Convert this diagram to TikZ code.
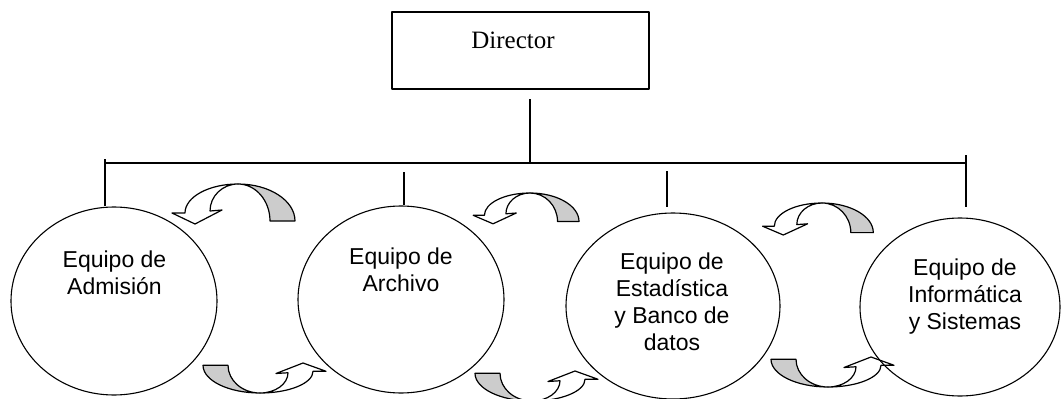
\documentclass[tikz,border=0pt]{standalone}
\usepackage{fontspec}
\setmainfont{Liberation Serif}
\newfontfamily\teamfont{Liberation Sans}
\usetikzlibrary{shapes.geometric}
\definecolor{ribbon gray}{rgb}{0.8, 0.8, 0.8}

% one curved ribbon arrow, drawn round its top point
\newcommand{\ribbonarrow}{%
	\filldraw[fill=ribbon gray]
		(0,0) arc[start angle=-90, end angle=0, x radius=57, y radius=37]
		-- (32,37) arc[start angle=0, end angle=-90, x radius=32, y radius=37] -- cycle;
	\filldraw[fill=white]
		(0,0) arc[start angle=-90, end angle=-180, x radius=53, y radius=29]
		-- (-66,29) -- (-43,40) -- (-16,26) -- (-28,27)
		arc[start angle=180, end angle=270, x radius=28, y radius=27] -- cycle;
}

\begin{document}
\begin{tikzpicture}[x=1pt, y=-1pt, line join=round,
		dirbox/.style={draw, line width=1.3pt, minimum width=257pt, minimum height=77pt, inner sep=0pt},
		team/.style={draw, ellipse, line width=1.1pt, inner sep=0pt},
		teamtext/.style={font=\teamfont\fontsize{23}{27}\selectfont, align=center, anchor=base, inner sep=0pt},
		link/.style={line width=1.4pt}]
			\useasboundingbox (0,0) rectangle (1061,399);
			% director
			\node[dirbox] (dir) at (520.5,50.5) {};
			\node[font=\fontsize{25}{30}\selectfont, anchor=base, inner sep=0pt] (dirtext) at (513,48) {Director};
			% arrows above
			\begin{scope}[line width=1.2pt]
				\begin{scope}[shift={(238,184)}] \ribbonarrow \end{scope}
				\begin{scope}[shift={(530,193)}, xscale=0.86, yscale=0.77] \ribbonarrow \end{scope}
				\begin{scope}[shift={(822,203)}, xscale=0.9, yscale=0.8] \ribbonarrow \end{scope}
			\end{scope}
			% arrows below
			\begin{scope}[line width=1.2pt]
				\begin{scope}[shift={(260,393)}, rotate=180, yscale=0.75] \ribbonarrow \end{scope}
				\begin{scope}[shift={(532,401)}, rotate=180, yscale=0.75] \ribbonarrow \end{scope}
				\begin{scope}[shift={(828,387)}, rotate=180, yscale=0.75] \ribbonarrow \end{scope}
			\end{scope}
			% teams
			\node[team, minimum width=206pt, minimum height=188pt] (adm) at (114,301) {};
			\node[team, minimum width=206pt, minimum height=187pt] (arc) at (401,299.5) {};
			\node[team, minimum width=214pt, minimum height=186pt] (est) at (673,306) {};
			\node[team, minimum width=200pt, minimum height=178pt] (inf) at (960,307) {};
			\node[teamtext] (admtext) at (114.5,294) {Equipo de\\Admisión};
			\node[teamtext] (arctext) at (401,291) {Equipo de\\Archivo};
			\node[teamtext] (esttext) at (672,350) {Equipo de\\Estadística\\y Banco de\\datos};
			\node[teamtext] (inftext) at (965,329) {Equipo de\\Informática\\y Sistemas};
			% lines
			\coordinate (dirfoot) at (530,99);
			\coordinate (busleft) at (105,163);
			\coordinate (busright) at (966,163);
			\draw[link] (busleft) -- (busright);
			\draw[link] (dirfoot) -- (dirfoot |- busleft);
			\coordinate (drop1) at (105,159);
			\coordinate (drop2) at (404,172);
			\coordinate (drop3) at (667,171);
			\coordinate (drop4) at (966,155);
			\foreach \d/\e/\s in {drop1/adm/0, drop2/arc/0, drop3/est/5, drop4/inf/10}
				\draw[link, shorten >=\s pt] (\d) -- (\d |- \e.north);
\end{tikzpicture}
\end{document}
